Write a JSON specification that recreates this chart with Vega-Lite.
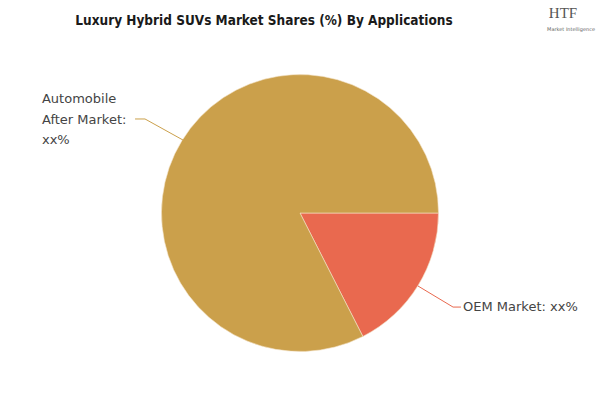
{
  "$schema": "https://vega.github.io/schema/vega-lite/v6.json",
  "width": 600,
  "height": 400,
  "autosize": {"type": "none"},
  "padding": 0,
  "background": "white",
  "title": {
    "text": "Luxury Hybrid SUVs Market Shares (%) By Applications",
    "font": "'DejaVu Sans Condensed', 'DejaVu Sans', sans-serif",
    "fontSize": 13.5,
    "fontWeight": "bold",
    "color": "#1a1a1a",
    "anchor": "middle",
    "baseline": "top",
    "offset": -27,
    "dx": -36
  },
  "config": {"view": {"stroke": null}},
  "datasets": {
    "slices": [
      {"application": "OEM Market", "share": 17.5},
      {"application": "Automobile After Market", "share": 82.5}
    ],
    "leaders": [
      {"application": "Automobile After Market", "step": 1, "x": -1.191, "y": 0.679},
      {"application": "Automobile After Market", "step": 2, "x": -1.119, "y": 0.679},
      {"application": "Automobile After Market", "step": 3, "x": -0.845, "y": 0.527},
      {"application": "OEM Market", "step": 1, "x": 0.852, "y": -0.527},
      {"application": "OEM Market", "step": 2, "x": 1.105, "y": -0.679},
      {"application": "OEM Market", "step": 3, "x": 1.162, "y": -0.679}
    ],
    "labels": [
      {"application": "Automobile After Market", "label": ["Automobile", "After Market:", "xx%"], "x": -1.863, "y": 0.823},
      {"application": "OEM Market", "label": ["OEM Market: xx%"], "x": 1.177, "y": -0.679}
    ],
    "logo": [
      {"text": "HTF", "x": 1.899, "y": 1.444, "kind": "big"},
      {"text": "Market Intelligence", "x": 1.957, "y": 1.33, "kind": "small"}
    ]
  },
  "layer": [
    {
      "data": {"name": "slices"},
      "mark": {"type": "arc", "outerRadius": 138.5, "stroke": "#f3e3c8", "strokeWidth": 0.6},
      "encoding": {
        "x": {"datum": 0, "type": "quantitative", "scale": {"domain": [-2.166, 2.166], "nice": false, "zero": false}, "axis": null},
        "y": {"datum": 0, "type": "quantitative", "scale": {"domain": [-1.35, 1.538], "nice": false, "zero": false}, "axis": null},
        "theta": {"field": "share", "type": "quantitative", "stack": true, "scale": {"range": [2.6704, 8.9536]}},
        "color": {
          "field": "application",
          "type": "nominal",
          "scale": {"domain": ["Automobile After Market", "OEM Market"], "range": ["#CBA04B", "#E9694F"]},
          "legend": null
        }
      }
    },
    {
      "data": {"name": "leaders"},
      "mark": {"type": "line", "strokeWidth": 1},
      "encoding": {
        "x": {"field": "x", "type": "quantitative", "scale": {"domain": [-2.166, 2.166], "nice": false, "zero": false}, "axis": null},
        "y": {"field": "y", "type": "quantitative", "scale": {"domain": [-1.35, 1.538], "nice": false, "zero": false}, "axis": null},
        "order": {"field": "step"},
        "color": {"field": "application", "type": "nominal", "legend": null}
      }
    },
    {
      "data": {"name": "labels"},
      "mark": {"type": "text", "align": "left", "baseline": "middle", "font": "DejaVu Sans", "fontSize": 13, "lineHeight": 20.5, "color": "#444444"},
      "encoding": {
        "x": {"field": "x", "type": "quantitative", "scale": {"domain": [-2.166, 2.166], "nice": false, "zero": false}, "axis": null},
        "y": {"field": "y", "type": "quantitative", "scale": {"domain": [-1.35, 1.538], "nice": false, "zero": false}, "axis": null},
        "text": {"field": "label"}
      }
    },
    {
      "data": {"name": "logo"},
      "transform": [{"filter": "datum.kind === 'big'"}],
      "mark": {"type": "text", "align": "center", "baseline": "middle", "font": "Liberation Serif", "fontSize": 15, "color": "#555555"},
      "encoding": {
        "x": {"field": "x", "type": "quantitative", "axis": null},
        "y": {"field": "y", "type": "quantitative", "axis": null},
        "text": {"field": "text"}
      }
    },
    {
      "data": {"name": "logo"},
      "transform": [{"filter": "datum.kind === 'small'"}],
      "mark": {"type": "text", "align": "center", "baseline": "middle", "font": "DejaVu Sans", "fontSize": 5, "color": "#666666"},
      "encoding": {
        "x": {"field": "x", "type": "quantitative", "axis": null},
        "y": {"field": "y", "type": "quantitative", "axis": null},
        "text": {"field": "text"}
      }
    }
  ]
}
